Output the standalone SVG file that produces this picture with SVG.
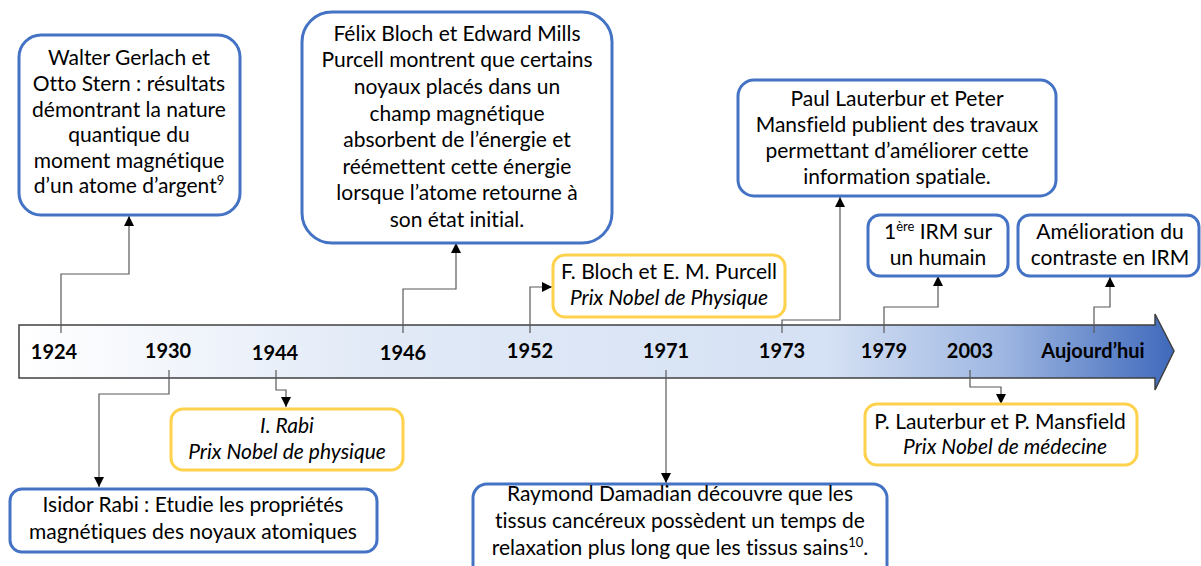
<svg xmlns="http://www.w3.org/2000/svg" width="1201" height="566" viewBox="0 0 1201 566">
<defs>
<linearGradient id="tl" x1="19" y1="0" x2="1174" y2="0" gradientUnits="userSpaceOnUse">
<stop offset="0" stop-color="#ffffff"/>
<stop offset="0.3" stop-color="#e2eaf7"/>
<stop offset="0.7" stop-color="#d5e1f4"/>
<stop offset="0.85" stop-color="#9fb7e2"/>
<stop offset="1" stop-color="#3f69bb"/>
</linearGradient>
<marker id="ah" viewBox="0 0 10 10" refX="10" refY="5" markerWidth="10" markerHeight="10" markerUnits="userSpaceOnUse" orient="auto">
<path d="M0,0 L10,5 L0,10 z" fill="#000"/>
</marker>
<style>
.blue{fill:#fff;stroke:#4472c4;stroke-width:3}
.yel{fill:#fff;stroke:#ffd24d;stroke-width:3}
.t{font-family:Lato,"Liberation Sans",sans-serif;font-size:21px;fill:#000;text-anchor:middle;font-variant-ligatures:none}
.i{font-style:italic}
.yr{font-family:Lato,"Liberation Sans",sans-serif;font-size:20px;font-weight:bold;fill:#000;text-anchor:middle}
.c{fill:none;stroke:#595959;stroke-width:1.2;marker-end:url(#ah)}
</style>
</defs>
<g id="timeline">
<path d="M19,325 L1155,325 L1155,314 L1174,351 L1155,390 L1155,378 L19,378 Z" fill="url(#tl)" stroke="#404040" stroke-width="1.5"/>
<text class="yr" x="54" y="359">1924</text>
<text class="yr" x="168" y="358">1930</text>
<text class="yr" x="275" y="360">1944</text>
<text class="yr" x="403" y="360">1946</text>
<text class="yr" x="530" y="358">1952</text>
<text class="yr" x="666" y="358">1971</text>
<text class="yr" x="782" y="358">1973</text>
<text class="yr" x="884" y="358">1979</text>
<text class="yr" x="970" y="358">2003</text>
<text class="yr" x="1093" y="358">Aujourd’hui</text>
</g>
<g id="connectors">
<path class="c" d="M61,333 V274 H129 V216"/>
<path class="c" d="M169,370 V394 H99 V487"/>
<path class="c" d="M276,370 V390 H286 V407"/>
<path class="c" d="M403,333 V289 H456 V243"/>
<path class="c" d="M530,333 V287 H552"/>
<path class="c" d="M666,370 V483"/>
<path class="c" d="M782,333 V320 H840 V197"/>
<path class="c" d="M884,333 V307 H938 V276"/>
<path class="c" d="M970,370 V387 H1001 V404"/>
<path class="c" d="M1094,333 V307 H1110 V277"/>
</g>
<g id="n1924">
<rect class="blue" x="19" y="35" width="221" height="180" rx="22"/>
<text class="t" x="129" y="65">Walter Gerlach et</text>
<text class="t" x="129" y="91">Otto Stern : résultats</text>
<text class="t" x="129" y="117">démontrant la nature</text>
<text class="t" x="129" y="142">quantique du</text>
<text class="t" x="129" y="168">moment magnétique</text>
<text class="t" x="129" y="193">d’un atome d’argent<tspan font-size="13" dy="-8">9</tspan></text>
</g>
<g id="n1946">
<rect class="blue" x="302" y="12" width="310" height="231" rx="30"/>
<text class="t" x="457" y="41">Félix Bloch et Edward Mills</text>
<text class="t" x="457" y="67">Purcell montrent que certains</text>
<text class="t" x="457" y="94">noyaux placés dans un</text>
<text class="t" x="457" y="121">champ magnétique</text>
<text class="t" x="457" y="147">absorbent de l’énergie et</text>
<text class="t" x="457" y="174">réémettent cette énergie</text>
<text class="t" x="457" y="200">lorsque l’atome retourne à</text>
<text class="t" x="457" y="227">son état initial.</text>
</g>
<g id="n1952">
<rect class="yel" x="553" y="255" width="232" height="62" rx="12"/>
<text class="t" x="669" y="279">F. Bloch et E. M. Purcell</text>
<text class="t i" x="669" y="305">Prix Nobel de Physique</text>
</g>
<g id="n1973">
<rect class="blue" x="738" y="80" width="318" height="116" rx="16"/>
<text class="t" x="897" y="106">Paul Lauterbur et Peter</text>
<text class="t" x="897" y="132">Mansfield publient des travaux</text>
<text class="t" x="897" y="158">permettant d’améliorer cette</text>
<text class="t" x="897" y="184">information spatiale.</text>
</g>
<g id="n1979">
<rect class="blue" x="868" y="215" width="140" height="61" rx="12"/>
<text class="t" x="938" y="239">1<tspan font-size="13" dy="-8">ère</tspan><tspan dy="8"> IRM sur</tspan></text>
<text class="t" x="938" y="265">un humain</text>
</g>
<g id="nAuj">
<rect class="blue" x="1018" y="215" width="181" height="61" rx="12"/>
<text class="t" x="1110" y="239">Amélioration du</text>
<text class="t" x="1110" y="265">contraste en IRM</text>
</g>
<g id="n1930">
<rect class="blue" x="10" y="489" width="367" height="63" rx="12"/>
<text class="t" x="193" y="512">Isidor Rabi : Etudie les propriétés</text>
<text class="t" x="193" y="539">magnétiques des noyaux atomiques</text>
</g>
<g id="n1944">
<rect class="yel" x="171" y="409" width="232" height="61" rx="12"/>
<text class="t i" x="287" y="433">I. Rabi</text>
<text class="t i" x="287" y="459">Prix Nobel de physique</text>
</g>
<g id="n1971">
<rect class="blue" x="473" y="484" width="414" height="100" rx="14"/>
<text class="t" x="680" y="501">Raymond Damadian découvre que les</text>
<text class="t" x="680" y="528">tissus cancéreux possèdent un temps de</text>
<text class="t" x="680" y="555">relaxation plus long que les tissus sains<tspan font-size="13" dy="-8">10</tspan><tspan dy="8">.</tspan></text>
</g>
<g id="n2003">
<rect class="yel" x="865" y="404" width="272" height="61" rx="12"/>
<text class="t" x="1000" y="429">P. Lauterbur et P. Mansfield</text>
<text class="t i" x="1005" y="454">Prix Nobel de médecine</text>
</g>
</svg>
